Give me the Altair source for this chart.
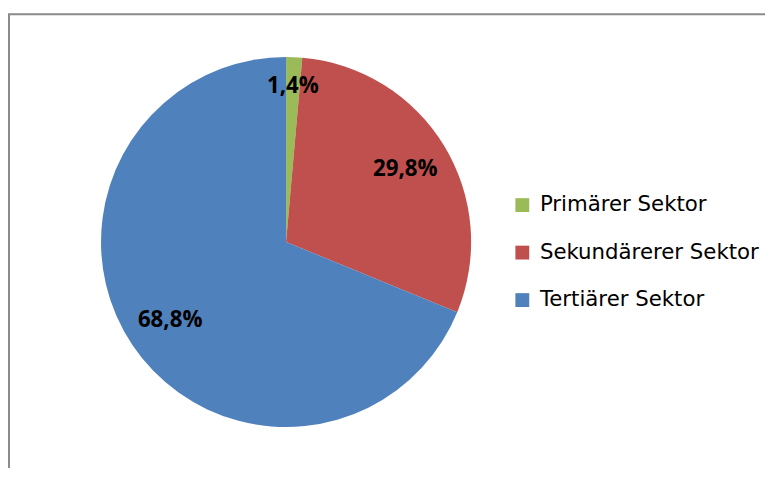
import altair as alt
import pandas as pd

categories = ["Primärer Sektor", "Sekundärerer Sektor", "Tertiärer Sektor"]
shares = [1.4, 29.8, 68.8]
labels = ["1,4%", "29,8%", "68,8%"]
colors = ["#9BBB59", "#C0504D", "#4F81BD"]
order = [0, 1, 2]

df = pd.DataFrame({"sektor": categories, "anteil": shares, "label": labels, "ord": order})

W, H = 765, 460
CX, CY = 281, 234
R = 187
FONT = "Open Sans"
LEGEND_FONT = "DejaVu Sans"
theta_scale = alt.Scale(domain=[0, 100], range=[0, 6.283185307179586])

pie = alt.Chart(df).mark_arc(radius=R).encode(
    theta=alt.Theta("anteil:Q", stack=True, scale=theta_scale),
    order=alt.Order("ord:Q"),
    x=alt.value(CX),
    y=alt.value(CY),
    color=alt.Color(
        "sektor:N",
        scale=alt.Scale(domain=categories, range=colors),
        legend=alt.Legend(
            title=None,
            orient="none",
            legendX=509,
            legendY=186,
            symbolType="square",
            symbolSize=196,
            symbolStrokeWidth=0,
            labelFont=LEGEND_FONT,
            labelFontSize=21.5,
            labelColor="black",
            labelOffset=7,
            labelLimit=0,
            rowPadding=25,
        ),
    ),
)

tbase = alt.Chart(df).transform_window(
    cum="sum(anteil)", sort=[alt.SortField("ord")]
).transform_calculate(mid="datum.cum - datum.anteil / 2")


def label_layer(radius, cond):
    return tbase.transform_filter(cond).mark_text(
        radius=radius, font=FONT, fontSize=22.5, fontWeight="bold", color="black"
    ).encode(
        theta=alt.Theta("mid:Q", stack=None, scale=theta_scale),
        x=alt.value(CX),
        y=alt.value(CY),
        text="label:N",
    )


text_small = label_layer(158, alt.datum.anteil < 5)
text_big = label_layer(141, alt.datum.anteil >= 5)

frame = alt.Chart(pd.DataFrame({"f": [0]})).mark_rect(
    fill=None, stroke="#8a8a8a", strokeWidth=2
).encode(
    x=alt.value(1), x2=alt.value(1000), y=alt.value(4), y2=alt.value(1000)
)

chart = alt.layer(frame, pie, text_small, text_big).resolve_scale(
    theta="independent"
).properties(
    width=W, height=H, autosize=alt.AutoSizeParams(type="none"), padding=0,
    background="white",
).configure_view(stroke=None)

chart.save("out.html", embed_options={"renderer": "svg", "actions": False})
